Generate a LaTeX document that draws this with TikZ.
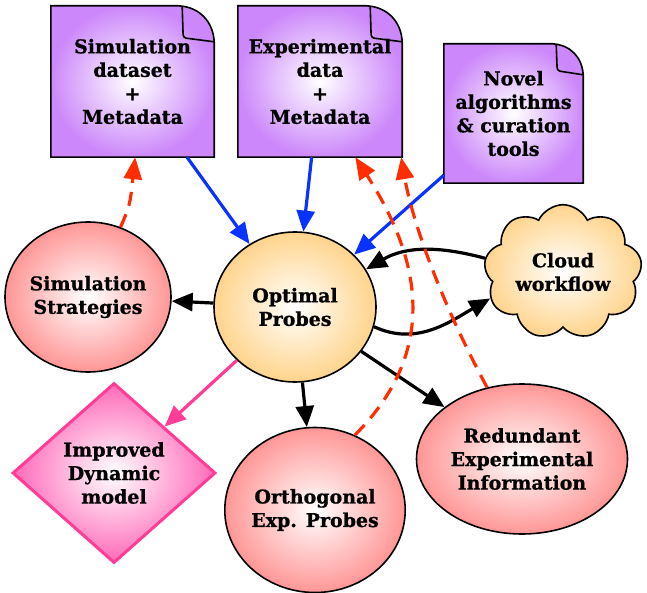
\documentclass[tikz,border=0pt]{standalone}
\usepackage{fontspec}
\setmainfont[BoldFeatures={FakeBold=0.8}]{DejaVu Serif}
\usetikzlibrary{arrows.meta,shapes.geometric,shapes.symbols,calc,backgrounds}

\definecolor{docpurple}{RGB}{204,136,250}
\definecolor{probeorange}{RGB}{255,212,140}
\definecolor{rosefill}{RGB}{255,150,150}
\definecolor{diafill}{RGB}{255,105,185}
\definecolor{diaedge}{RGB}{255,60,150}
\definecolor{flowblue}{RGB}{10,50,255}
\definecolor{flowred}{RGB}{255,45,0}

\tikzset{
  lbl/.style={font=\bfseries\fontsize{19}{23.5}\selectfont, align=center, text=black},
  docbox/.style={rectangle, inner sep=0pt, lbl},
  blob/.style={ellipse, draw=black, line width=1.6pt, inner sep=0pt, lbl, inner color=white},
  tipshape/.style={-{Triangle[length=21pt,width=18pt]}},
  bluearrow/.style={tipshape, draw=flowblue, line width=3.2pt},
  blackarrow/.style={tipshape, draw=black, line width=3.2pt},
  pinkarrow/.style={tipshape, draw=diaedge, line width=3.2pt},
  reddash/.style={-{Triangle[length=22pt,width=18pt]}, draw=flowred, line width=3.2pt,
                  dash pattern=on 14pt off 9pt},
}

% document page with a dog-eared top right corner, drawn behind node #1
\newcommand{\dogear}[2]{%
  \begin{pgfonlayer}{background}
    \path[inner color=white, outer color=docpurple, draw=black, line width=1.6pt]
      (#1.north west) -- ($(#1.north east)+(-#2,0)$)
      .. controls ($(#1.north east)+(-0.4*#2,1)$) and ($(#1.north east)+(-1,0.45*#2)$) ..
      ($(#1.north east)+(0,#2)$) -- (#1.south east) -- (#1.south west) -- cycle;
    \draw[line width=1.6pt, rounded corners=3pt]
      ($(#1.north east)+(-#2+4,1)$) -- ($(#1.north east)+(-#2+5,#2-4)$) -- ($(#1.north east)+(0,#2)$);
  \end{pgfonlayer}}

\begin{document}
\begin{tikzpicture}[x=1pt, y=-1pt]
\useasboundingbox (0,0) rectangle (647,593);

% input documents
\node[docbox, minimum width=163, minimum height=151] (d1) at (132.5,81.5)
  {Simulation\\dataset\\+\\Metadata};
\node[docbox, minimum width=164, minimum height=151] (d2) at (320,81.5)
  {Experimental\\data\\+\\Metadata};
\node[docbox, minimum width=139, minimum height=139] (d3) at (513.5,113.5)
  {Novel\\algorithms\\\& curation\\tools};
\dogear{d1}{36}
\dogear{d2}{36}
\dogear{d3}{31}

% central probe node and its neighbours
\node[blob, outer color=probeorange, minimum width=162, minimum height=150] (opt) at (295,307)
  {Optimal\\Probes};
\node[blob, outer color=rosefill, minimum width=166, minimum height=150] (sim) at (88,297)
  {Simulation\\Strategies};
\node[blob, outer color=rosefill, minimum width=175, minimum height=165] (orth) at (315,510)
  {Orthogonal\\Exp. Probes};
\node[blob, outer color=rosefill, minimum width=211, minimum height=150] (red) at (522,459)
  {Redundant\\Experimental\\Information};
\node[cloud, cloud puffs=9, cloud puff arc=130, aspect=1.2, draw=black, line width=1.6pt,
      inner color=white, outer color=probeorange, minimum width=158, minimum height=128,
      inner sep=0pt, lbl] (cloud) at (563,272) {Cloud\\workflow};
\node[diamond, draw=diaedge, line width=3pt, inner color=white, outer color=diafill,
      minimum width=203, minimum height=180, inner sep=0pt, lbl] (dia) at (114,473)
  {Improved\\Dynamic\\model};

% data flowing into the probe design
\draw[bluearrow] (d1) -- (opt);
\draw[bluearrow] (d2) -- (opt);
\draw[bluearrow] (d3) -- (opt);

% probe design outputs
\draw[blackarrow] (opt) -- (sim);
\draw[blackarrow] (opt) -- (orth);
\draw[blackarrow] (opt) -- (red);
\draw[pinkarrow] (opt) -- (dia);
\draw[blackarrow] (cloud.170) to[out=165, in=30] (opt.28);
\draw[blackarrow] (opt.-14) to[out=-25, in=210] (cloud.200);

% feedback to the datasets
\draw[reddash] (sim.65) .. controls (130,205) .. (d1.-88);
\draw[reddash] (orth.62) .. controls (445,345) and (415,250) .. (d2.-65);
\draw[reddash] (red.116) .. controls (440,300) and (412,220) .. (d2.-43);
\end{tikzpicture}
\end{document}
